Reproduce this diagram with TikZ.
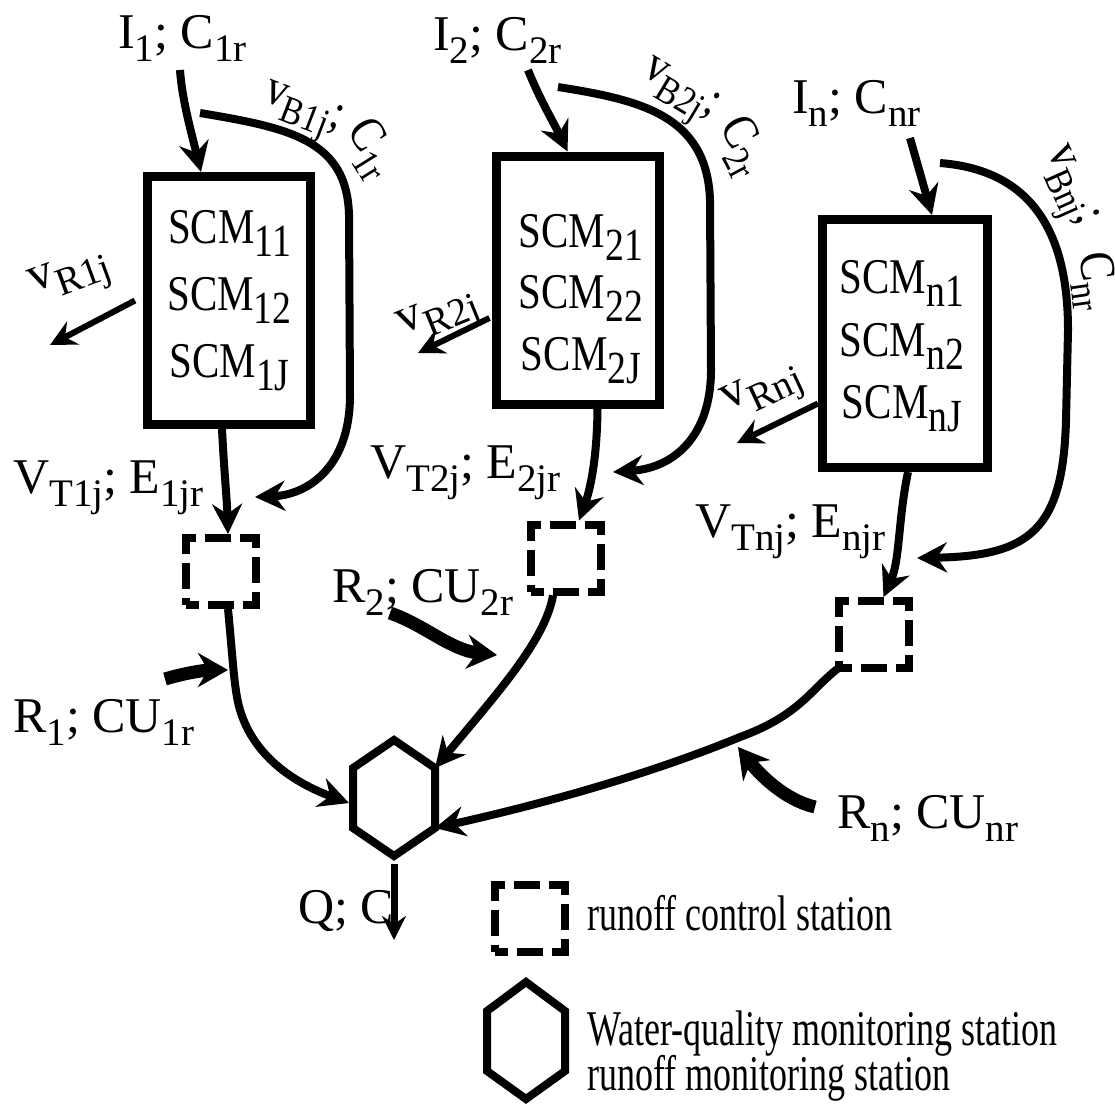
\documentclass[tikz,border=0pt]{standalone}
\usepackage{fontspec}
\setmainfont{Liberation Serif}
\newfontfamily\narrowA{Liberation Serif}[FakeStretch=0.82]
\newfontfamily\narrowB{Liberation Serif}[FakeStretch=0.72]
\newfontfamily\narrowC{Liberation Serif}[FakeStretch=0.86]
\usetikzlibrary{arrows.meta}
\newcommand\lowsub[1]{\raisebox{-13pt}{\fontsize{39pt}{39pt}\selectfont #1}}
\newcommand\lowsubb[1]{\raisebox{-13pt}{\fontsize{46pt}{46pt}\selectfont #1}}
\begin{document}
\begin{tikzpicture}[x=1pt,y=-1pt,
  lbl/.style={inner sep=0pt, anchor=base west, font=\fontsize{50pt}{55pt}\selectfont},
  rlbl/.style={inner sep=0pt, anchor=base west, font=\narrowC\fontsize{50pt}{55pt}\selectfont},
  scm/.style={inner sep=0pt, anchor=base, font=\narrowA\fontsize{50pt}{55pt}\selectfont},
  leg/.style={inner sep=0pt, anchor=base west, font=\narrowB\fontsize{50pt}{55pt}\selectfont},
  box/.style={draw, line width=9pt, minimum width=163pt, minimum height=248pt, inner sep=0pt},
  station/.style={draw, line width=8pt, minimum width=70pt, minimum height=67pt, inner sep=0pt, dash pattern=on 26pt off 9pt, dash phase=13pt},
  hexa/.style={draw, line width=8pt, line join=miter},
  flow/.style={line width=8pt, -{Stealth[length=30pt,width=30pt,inset=10pt]}},
  inflow/.style={line width=13pt, -{Stealth[length=30pt,width=34pt,inset=10pt]}},
  loss/.style={line width=6pt, -{Stealth[length=26pt,width=26pt,inset=9pt]}},
  outflow/.style={line width=7pt, -{Stealth[length=24pt,width=24pt,inset=8pt]}},
]
\useasboundingbox (0,0) rectangle (1115,1103);

% ---------- boxes of SCMs ----------
\node[box] (box1) at (229,300.5) {};
\node[box] (box2) at (577.5,280) {};
\node[box, minimum width=165pt] (boxn) at (905,343.5) {};

\node[scm] (s11) at (229.5,243) {SCM\lowsubb{11}};
\node[scm] (s12) at (229.5,310) {SCM\lowsubb{12}};
\node[scm] (s1J) at (229.5,377) {SCM\lowsubb{1J}};
\node[scm] (s21) at (581,247) {SCM\lowsubb{21}};
\node[scm] (s22) at (581,308) {SCM\lowsubb{22}};
\node[scm] (s2J) at (581,370) {SCM\lowsubb{2J}};
\node[scm] (sn1) at (902,293) {SCM\lowsubb{n1}};
\node[scm] (sn2) at (902,356) {SCM\lowsubb{n2}};
\node[scm] (snJ) at (902,418) {SCM\lowsubb{nJ}};

% ---------- runoff control stations ----------
\node[station] (sq1) at (221,571.5) {};
\node[station] (sq2) at (566,558) {};
\node[station] (sqn) at (873.5,634.5) {};
\node[station] (sqleg) at (530,918) {};

% ---------- hexagons ----------
\coordinate (h-t)  at (394,740);
\coordinate (h-ur) at (435,768);
\coordinate (h-lr) at (435,828);
\coordinate (h-b)  at (394,856);
\coordinate (h-ll) at (353,828);
\coordinate (h-ul) at (353,768);
\coordinate (h-l)  at (349,803);
\draw[hexa] (h-t) -- (h-ur) -- (h-lr) -- (h-b) -- (h-ll) -- (h-ul) -- cycle;

\coordinate (g-t)  at (526,982);
\coordinate (g-ur) at (565,1011);
\coordinate (g-lr) at (565,1071);
\coordinate (g-b)  at (526,1099);
\coordinate (g-ll) at (487,1071);
\coordinate (g-ul) at (487,1011);
\draw[hexa] (g-t) -- (g-ur) -- (g-lr) -- (g-b) -- (g-ll) -- (g-ul) -- cycle;

% ---------- labels ----------
\node[lbl] (i1) at (118,48) {I\lowsub{1}; C\lowsub{1r}};
\node[lbl] (i2) at (433,50) {I\lowsub{2}; C\lowsub{2r}};
\node[lbl] (in) at (792,113) {I\lowsub{n}; C\lowsub{nr}};

\node[lbl] (vt1) at (13,493) {V\lowsub{T1j}; E\lowsub{1jr}};
\node[lbl] (vt2) at (370,478) {V\lowsub{T2j}; E\lowsub{2jr}};
\node[lbl] (vtn) at (695,537) {V\lowsub{Tnj}; E\lowsub{njr}};

\node[lbl] (r1) at (13,732) {R\lowsub{1}; CU\lowsub{1r}};
\node[lbl] (r2) at (332,602) {R\lowsub{2}; CU\lowsub{2r}};
\node[lbl] (rn) at (837,828) {R\lowsub{n}; CU\lowsub{nr}};
\node[lbl] (qc) at (298,923) {Q; C};

\node[rlbl, rotate=-21] (vb1a) at (262,100) {v\lowsub{B1j};};
\node[rlbl, rotate=-58] (vb1b) at (346,130) {C\lowsub{1r}};
\node[rlbl, rotate=-31] (vb2a) at (641,74) {v\lowsub{B2j};};
\node[rlbl, rotate=-62] (vb2b) at (719,126) {C\lowsub{2r}};
\node[rlbl, rotate=-66] (vbna) at (1047,151) {v\lowsub{Bnj};};
\node[rlbl, rotate=-82] (vbnb) at (1079,254) {C\lowsub{nr}};

\node[lbl, rotate=20] (vr1) at (33,293) {v\lowsub{R1j}};
\node[lbl, rotate=22] (vr2) at (402,335) {v\lowsub{R2j}};
\node[lbl, rotate=25] (vrn) at (727,411) {v\lowsub{Rnj}};

\node[leg] (leg1) at (587,930) {runoff control station};
\node[leg] (leg2) at (587,1045) {Water-quality monitoring station};
\node[leg] (leg3) at (587,1090) {runoff monitoring station};

% ---------- free ends ----------
\coordinate (a1) at (180,70);
\coordinate (a2) at (528,70);
\coordinate (an) at (910,138);
\coordinate (b1s) at (200,113);
\coordinate (b2s) at (558,87);
\coordinate (bns) at (940,163);
\coordinate (b1e) at (255,497);
\coordinate (b2e) at (613,472);
\coordinate (bne) at (917,558);
\coordinate (l1e) at (50,345);
\coordinate (l2e) at (418,353);
\coordinate (lne) at (737,443);
\coordinate (r1s) at (165,679);
\coordinate (r1e) at (228,670);
\coordinate (r2s) at (390,613);
\coordinate (r2e) at (497,655);
\coordinate (rns) at (815,807);
\coordinate (rne) at (738,747);
\coordinate (qe) at (394,940);

% ---------- inflows ----------
\draw[flow] (a1) .. controls (182,100) and (192,135) .. ([xshift=-28pt]box1.north);
\draw[flow] (a2) .. controls (540,100) and (555,125) .. ([xshift=-10pt]box2.north);
\draw[flow] (an) -- ([xshift=27pt]boxn.north);

% ---------- bypasses ----------
\draw[flow] (b1s) .. controls (290,128) and (347,140) .. (349,215) -- (350,395) .. controls (350,470) and (305,495) .. (b1e);
\draw[flow] (b2s) .. controls (640,100) and (707,115) .. (710,200) -- (711,370) .. controls (711,435) and (675,468) .. (b2e);
\draw[flow] (bns) .. controls (1030,170) and (1068,230) .. (1068,330) -- (1066,420) .. controls (1063,530) and (1030,556) .. (bne);

% ---------- losses ----------
\draw[loss] ([xshift=-8pt]box1.west) -- (l1e);
\draw[loss] ([xshift=-2pt,yshift=-38pt]box2.west) -- (l2e);
\draw[loss] ([yshift=-60pt]boxn.west) -- (lne);

% ---------- box to station ----------
\draw[flow] ([xshift=-7pt]box1.south) .. controls (224,470) and (227,500) .. ([xshift=7pt]sq1.north);
\draw[flow] ([xshift=20pt]box2.south) .. controls (597,460) and (590,490) .. ([xshift=13pt]sq2.north);
\draw[flow] ([xshift=3pt]boxn.south) .. controls (898,520) and (900,560) .. ([xshift=10pt]sqn.north);

% ---------- station to outlet ----------
\draw[flow] ([xshift=7pt]sq1.south) .. controls (233,660) and (234,690) .. (240,710) .. controls (255,760) and (300,785) .. (h-l);
\draw[flow] ([xshift=-13pt]sq2.south) .. controls (545,640) and (500,690) .. (h-ur);
\draw[flow] ([xshift=4pt,yshift=4pt]sqn.south west) .. controls (810,690) and (800,715) .. (740,737) .. controls (660,770) and (560,800) .. (h-lr);

% ---------- lateral inflows ----------
\draw[inflow] (r1s) .. controls (185,673) and (205,670) .. (r1e);
\draw[inflow] (r2s) .. controls (425,625) and (450,650) .. (r2e);
\draw[inflow] (rns) .. controls (785,800) and (760,775) .. (rne);

% ---------- outflow ----------
\draw[outflow] ([yshift=-8pt]h-b) -- (qe);
\end{tikzpicture}
\end{document}
